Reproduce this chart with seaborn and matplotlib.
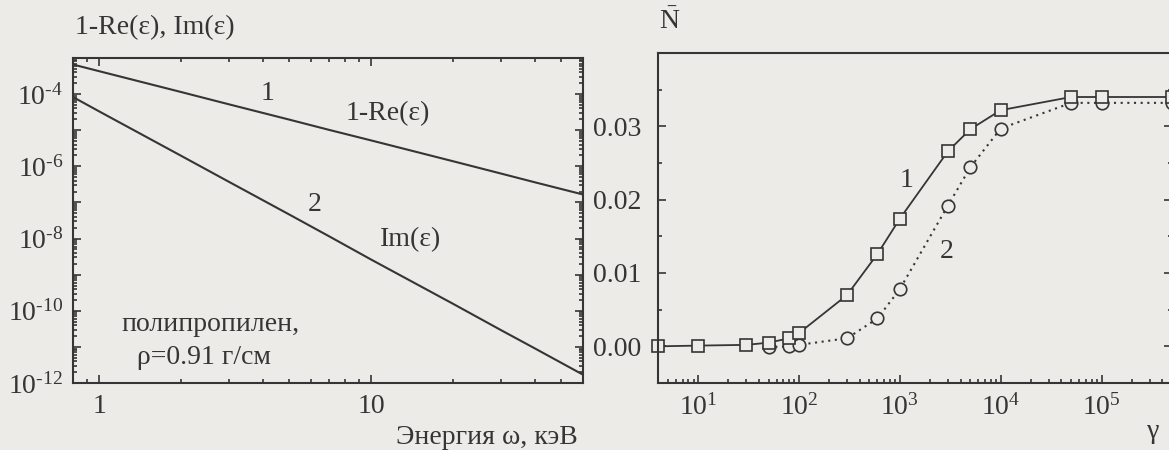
import matplotlib
matplotlib.use("Agg")
import numpy as np
import matplotlib.pyplot as plt
import matplotlib.ticker as mticker
import seaborn as sns

# left panel: permittivity of polypropylene vs photon energy
energy_kev = [0.8, 1, 2, 3, 5, 7, 10, 20, 30, 40, 60]
one_minus_re = [6.6e-4, 4.3e-4, 1.14e-4, 5.2e-5, 1.96e-5, 1.02e-5, 5.2e-6,
                1.38e-6, 6.3e-7, 3.6e-7, 1.66e-7]
im_eps = [8.3e-5, 3.3e-5, 1.95e-6, 3.7e-7, 4.6e-8, 1.15e-8, 2.6e-9,
          1.55e-10, 2.9e-11, 9.0e-12, 1.7e-12]

# right panel: mean photon number vs gamma
gamma_1 = [4, 10, 30, 50, 80, 100, 300, 600, 1000, 3000, 5000, 1e4, 5e4, 1e5, 5e5]
n_1 = [0.0, 0.0001, 0.0002, 0.0005, 0.0011, 0.0018, 0.0070, 0.0126, 0.0174,
       0.0266, 0.0296, 0.0322, 0.0340, 0.0340, 0.0340]
gamma_2 = [50, 80, 100, 300, 600, 1000, 3000, 5000, 1e4, 5e4, 1e5, 5e5]
n_2 = [-0.0001, 0.0, 0.0002, 0.0011, 0.0038, 0.0078, 0.0192, 0.0244, 0.0297,
       0.0332, 0.0332, 0.0332]
n_ticks = [0.0, 0.01, 0.02, 0.03]

ink = "#353535"
paper = "#ecebe8"

sns.set_theme(style="ticks")
plt.rcParams.update({
    "font.family": ["Liberation Serif", "DejaVu Serif"],
    "mathtext.fontset": "custom",
    "mathtext.rm": "Liberation Serif",
    "mathtext.it": "Liberation Serif:italic",
    "mathtext.bf": "Liberation Serif:bold",
    "font.size": 20,
    "text.color": ink,
    "axes.edgecolor": ink,
    "axes.linewidth": 1.5,
    "xtick.color": ink,
    "ytick.color": ink,
    "xtick.labelcolor": ink,
    "ytick.labelcolor": ink,
    "xtick.labelsize": 20,
    "ytick.labelsize": 20,
})

W, H = 1169, 450
fig = plt.figure(figsize=(W / 100, H / 100), dpi=100, facecolor=paper)


def box(x0, y0, x1, y1):
    return [x0 / W, 1 - y1 / H, (x1 - x0) / W, (y1 - y0) / H]


def px(x, y):
    return x / W, 1 - y / H


# ---- left panel
axL = fig.add_axes(box(73, 58, 583, 383))
axL.set_facecolor(paper)
sns.lineplot(x=energy_kev, y=one_minus_re, ax=axL, color=ink, lw=1.5)
sns.lineplot(x=energy_kev, y=im_eps, ax=axL, color=ink, lw=1.5)
axL.set_xscale("log")
axL.set_yscale("log")
axL.set_xlim(0.8, 60)
axL.set_ylim(1e-12, 1e-3)

axL.yaxis.set_major_locator(mticker.LogLocator(base=10, numticks=20))
axL.yaxis.set_minor_locator(mticker.LogLocator(base=10, subs=np.arange(2, 10), numticks=20))


def even_pow(v, pos):
    e = int(round(np.log10(v)))
    if e % 2 == 0 and e <= -4:
        return r"$10^{\text{-}%d}$" % abs(e)
    return ""


axL.yaxis.set_major_formatter(mticker.FuncFormatter(even_pow))
axL.yaxis.set_minor_formatter(mticker.NullFormatter())
axL.xaxis.set_major_locator(mticker.FixedLocator([1, 10]))
axL.xaxis.set_major_formatter(mticker.FixedFormatter(["1", "10"]))
axL.xaxis.set_minor_locator(mticker.LogLocator(base=10, subs=np.arange(2, 10), numticks=20))
axL.xaxis.set_minor_formatter(mticker.NullFormatter())
axL.tick_params(which="both", direction="in", top=True, right=True, width=1.2)
axL.tick_params(which="major", length=6)
axL.tick_params(which="minor", length=3)
axL.tick_params(axis="y", pad=7)
axL.tick_params(axis="x", pad=8)
axL.set_xlabel("")
axL.set_ylabel("")

axL.text(0.382, 0.89, "1", transform=axL.transAxes, ha="center", va="center")
axL.text(0.618, 0.83, "1-Re(ε)", transform=axL.transAxes, ha="center", va="center")
axL.text(0.473, 0.55, "2", transform=axL.transAxes, ha="center", va="center")
axL.text(0.661, 0.44, "Im(ε)", transform=axL.transAxes, ha="center", va="center")
axL.text(0.27, 0.18, "полипропилен,", transform=axL.transAxes, ha="center", va="center")
axL.text(0.257, 0.08, "ρ=0.91 г/см", transform=axL.transAxes, ha="center", va="center")

fig.text(*px(75, 28), "1-Re(ε), Im(ε)", ha="left", va="center")
fig.text(*px(578, 437), "Энергия ω, кэВ", ha="right", va="center")

# ---- right panel
axR = fig.add_axes(box(658, 53, 1172, 383))
axR.set_facecolor(paper)
sns.lineplot(x=gamma_2, y=n_2, ax=axR, color=ink, lw=1.5, ls=(0, (1, 2.2)),
             marker="o", markersize=9, markerfacecolor=paper,
             markeredgecolor=ink, markeredgewidth=1.2, clip_on=False)
sns.lineplot(x=gamma_1, y=n_1, ax=axR, color=ink, lw=1.3,
             marker="s", markersize=9, markerfacecolor=paper,
             markeredgecolor=ink, markeredgewidth=1.2, clip_on=False)
axR.set_xscale("log")
axR.set_xlim(4, 5e5)
axR.set_ylim(-0.005, 0.04)
axR.yaxis.set_major_locator(mticker.FixedLocator(n_ticks))
axR.yaxis.set_minor_locator(mticker.MultipleLocator(0.005))
axR.yaxis.set_major_formatter(mticker.FormatStrFormatter("%.2f"))
axR.xaxis.set_major_locator(mticker.LogLocator(base=10, numticks=20))
axR.xaxis.set_minor_locator(mticker.LogLocator(base=10, subs=np.arange(2, 10), numticks=20))
axR.xaxis.set_major_formatter(mticker.LogFormatterMathtext())
axR.xaxis.set_minor_formatter(mticker.NullFormatter())
axR.tick_params(which="both", direction="in", top=False, right=True, width=1.2)
axR.tick_params(which="major", length=6)
axR.tick_params(which="minor", length=3)
axR.tick_params(axis="y", pad=12)
axR.tick_params(axis="x", pad=8)
axR.set_xlabel("")
axR.set_ylabel("")

axR.text(0.484, 0.615, "1", transform=axR.transAxes, ha="center", va="center")
axR.text(0.562, 0.40, "2", transform=axR.transAxes, ha="center", va="center")

fig.text(*px(670, 22), r"$\bar{\mathrm{N}}$", ha="center", va="center")
fig.text(*px(1153, 432), "γ", ha="center", va="center")

fig.savefig("out.png", dpi=100, facecolor=paper)
